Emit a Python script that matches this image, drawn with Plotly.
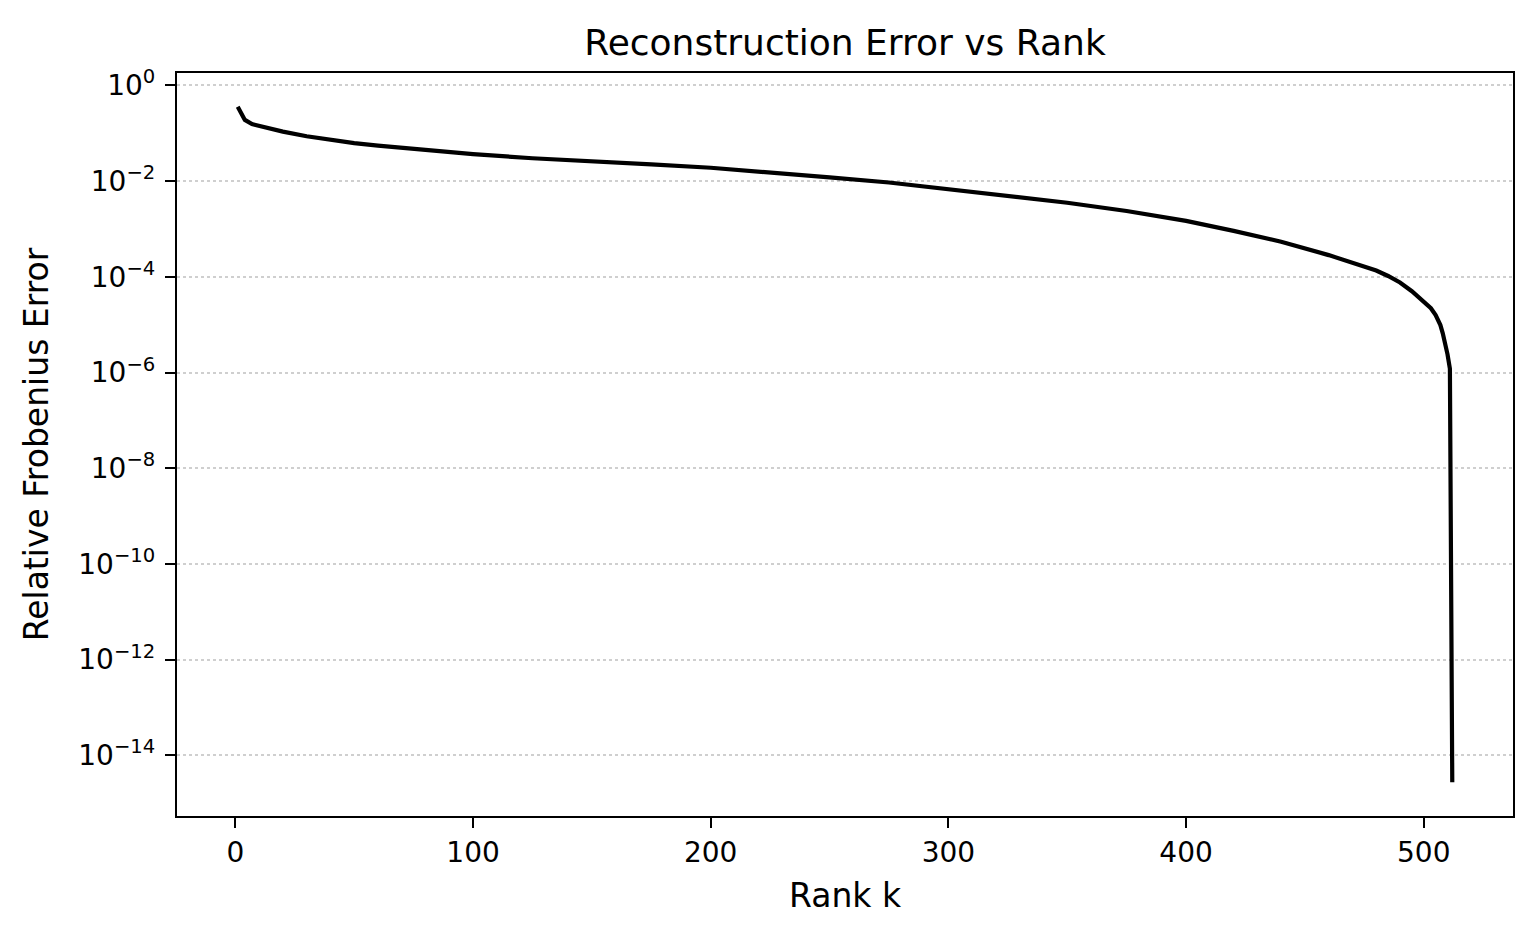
import plotly.graph_objects as go
import math

# ---- data ----
ranks = [1, 4, 7, 10, 15, 20, 30, 40, 50, 60, 80, 100, 125, 150, 175, 200,
         225, 250, 275, 300, 325, 350, 375, 400, 420, 440, 460, 470, 475, 480,
         485, 490, 495, 500, 503, 505, 507, 508, 509, 510, 511, 512]
errors = [0.357, 0.19, 0.155, 0.141, 0.122, 0.108, 0.0865, 0.073, 0.062,
          0.0553, 0.0442, 0.0367, 0.030, 0.0263, 0.0223, 0.019, 0.0153,
          0.012, 0.00935, 0.0068, 0.00493, 0.00353, 0.00237, 0.00147, 9.1e-4,
          5.4e-4, 2.84e-4, 2.0e-4, 1.66e-4, 1.35e-4, 1.04e-4, 7.6e-5, 5.0e-5,
          3.1e-5, 2.2e-5, 1.58e-5, 9.8e-6, 6.6e-6, 4.2e-6, 2.4e-6, 1.2e-6,
          2.75e-15]

ytick_vals = [1, 1e-2, 1e-4, 1e-6, 1e-8, 1e-10, 1e-12, 1e-14]
ytick_text = ["10<sup>0</sup>", "10<sup>\u22122</sup>", "10<sup>\u22124</sup>",
              "10<sup>\u22126</sup>", "10<sup>\u22128</sup>", "10<sup>\u221210</sup>",
              "10<sup>\u221212</sup>", "10<sup>\u221214</sup>"]
xtick_vals = [0, 100, 200, 300, 400, 500]

title_text = "Reconstruction Error vs Rank"
xlabel = "Rank k"
ylabel = "Relative Frobenius Error"

FONT = "DejaVu Sans"

# matplotlib-like 5% margins
xmin, xmax = min(ranks), max(ranks)
xpad = 0.05 * (xmax - xmin)
lmin, lmax = math.log10(min(errors)), math.log10(max(errors))
lpad = 0.05 * (lmax - lmin)

fig = go.Figure()
fig.add_trace(go.Scatter(x=ranks, y=errors, mode="lines",
                         line=dict(color="black", width=4.2),
                         showlegend=False))

# page body has an 8px margin; figure sized to fit the window
W, H = 1529, 931
L, R, T, B = 169, 24, 65, 123

fig.update_layout(
    width=W, height=H,
    margin=dict(l=L, r=R, t=T, b=B, autoexpand=False),
    paper_bgcolor="white", plot_bgcolor="white",
    font=dict(family=FONT, color="black"),
    title=dict(text=title_text, font=dict(size=36, family=FONT, color="black"),
               x=(L + (W - R - L) / 2) / W, xanchor="center",
               y=1 - 34 / H, yanchor="middle", yref="container"),
)
fig.update_xaxes(
    range=[xmin - xpad, xmax + xpad],
    tickmode="array", tickvals=xtick_vals,
    ticks="outside", ticklen=10, tickwidth=2.2, tickcolor="black",
    showline=True, linecolor="black", linewidth=2.2, mirror=True,
    showgrid=False, zeroline=False,
    tickfont=dict(size=28, family=FONT, color="black"),
    title=dict(text=xlabel, font=dict(size=33, family=FONT, color="black"), standoff=16),
    automargin=False,
)
fig.update_yaxes(
    type="log",
    range=[lmin - lpad, lmax + lpad],
    tickmode="array", tickvals=ytick_vals, ticktext=ytick_text,
    ticks="outside", ticklen=10, tickwidth=2.2, tickcolor="black",
    ticklabelstandoff=4,
    showline=True, linecolor="black", linewidth=2.2, mirror=True,
    showgrid=True, gridcolor="#cfcfcf", gridwidth=2, griddash="dot",
    zeroline=False,
    tickfont=dict(size=28, family=FONT, color="black"),
    title=dict(text=ylabel, font=dict(size=33, family=FONT, color="black"), standoff=20),
    automargin=False,
)

fig.write_html("out.html")
